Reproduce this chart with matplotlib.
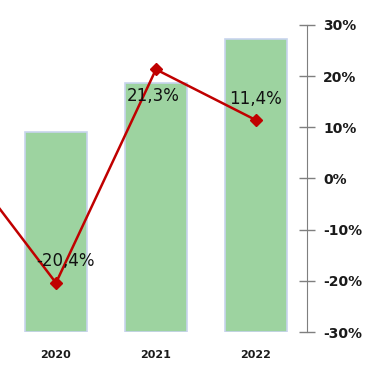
import matplotlib
matplotlib.use('Agg')
import matplotlib.pyplot as plt
from matplotlib.ticker import FuncFormatter
import numpy as np


# Bar values (left scale is hidden, units are arbitrary).
bar_years = ['2020', '2021', '2022']
bar_values = [19.5, 24.3, 28.6]

# Yearly change (%), the 2019 point sits just outside the left edge.
line_years = ['2019', '2020', '2021', '2022']
line_values = [5.3, -20.4, 21.3, 11.4]
line_labels = ['', '-20,4%', '21,3%', '11,4%']

# Label offsets in points, relative to the marker.
label_offsets = [(0, 0), (7, 16), (-2, -19), (0, 15)]

bar_x = np.arange(len(bar_years))
line_x = np.arange(len(line_years)) - 1

fig = plt.figure(figsize=(3.78, 3.71), dpi=100)
ax = fig.add_axes([0.0, 0.105, 0.811, 0.828])

ax.bar(bar_x, bar_values, width=0.62, color='#9dd3a0',
       edgecolor='#c8d4ee', linewidth=1.2, zorder=1)
ax.set_ylim(0, 30)
ax.set_xlim(-0.56, 2.507)
ax.set_yticks([])
ax.set_xticks(bar_x)
ax.set_xticklabels(bar_years, fontsize=8, fontweight='bold', color='#1a1a1a')
ax.tick_params(axis='x', length=0, pad=13)
for s in ax.spines.values():
    s.set_visible(False)

ax2 = ax.twinx()
ax2.plot(line_x, line_values, color='#c00000', linewidth=1.8,
         marker='D', markersize=6, zorder=3)
ax2.set_ylim(-30, 30)
ax2.set_yticks(np.arange(-30, 31, 10))
ax2.yaxis.set_major_formatter(FuncFormatter(lambda v, p: '%d%%' % v))
ax2.tick_params(axis='y', direction='inout', length=12, width=1,
                color='#7f7f7f', pad=6, labelsize=10)
for lab in ax2.get_yticklabels():
    lab.set_fontweight('bold')
    lab.set_color('#1a1a1a')
for name, s in ax2.spines.items():
    s.set_visible(name == 'right')
ax2.spines['right'].set_color('#7f7f7f')

for xi, yi, txt, off in zip(line_x, line_values, line_labels, label_offsets):
    if txt:
        ax2.annotate(txt, (xi, yi), xytext=off, textcoords='offset points',
                     ha='center', va='center', fontsize=12, color='#111111')

fig.savefig('out.png', dpi=100)
